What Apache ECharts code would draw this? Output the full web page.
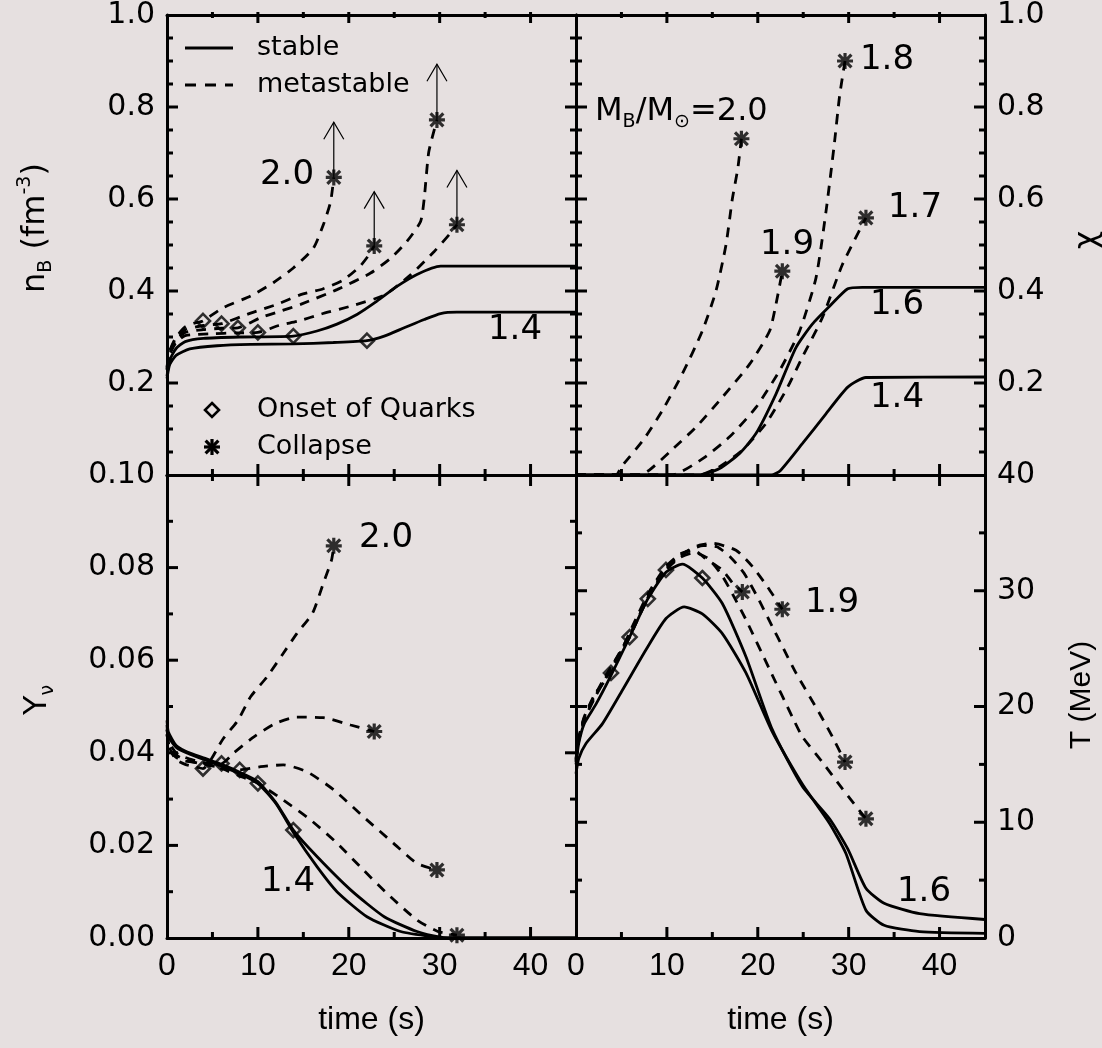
<!DOCTYPE html>
<html>
<head>
<meta charset="utf-8">
<script src="https://cdn.jsdelivr.net/npm/echarts@6/dist/echarts.min.js"></script>
<style>
  html, body { margin: 0; padding: 0; background: #e6e0e0; }
  #chart { width: 1102px; height: 1048px; }
</style>
</head>
<body>
<div id="chart"></div>
<script>
// ---- data: [time (s), value] ----
// baryon density n_B (fm^-3)
const nB14 = [[0,0.21],[0.3,0.24],[1,0.26],[2.5,0.274],[5.5,0.281],[9.2,0.284],[13.9,0.285],[18.3,0.288],[22,0.292],[23.9,0.302],[26.1,0.32],[28.3,0.338],[30.1,0.351],[31.9,0.354],[45,0.354]];
const nB16 = [[0,0.215],[0.3,0.25],[1,0.275],[2,0.29],[4,0.297],[8,0.3],[13.9,0.302],[16.5,0.313],[18.7,0.328],[20.9,0.349],[23.1,0.378],[25.3,0.41],[27.5,0.436],[30.1,0.454],[45,0.454]];
const nB17 = [[0,0.228],[0.3,0.262],[1,0.288],[2,0.303],[5,0.307],[7.5,0.309],[10,0.31],[12.3,0.325],[14.5,0.335],[17,0.35],[20.2,0.367],[23.9,0.391],[26.8,0.435],[29.4,0.486],[31.2,0.526],[31.9,0.544]];
const nB18 = [[0,0.23],[0.3,0.265],[1,0.293],[2,0.31],[4,0.316],[6,0.319],[7.8,0.32],[10.3,0.342],[12.3,0.355],[14.7,0.371],[18.7,0.403],[22.4,0.439],[24.6,0.471],[26.4,0.508],[27.9,0.551],[28.3,0.601],[28.8,0.702],[29.7,0.772]];
const nB19 = [[0,0.233],[0.3,0.268],[1,0.297],[2,0.316],[4,0.325],[6,0.329],[9.2,0.352],[12.1,0.371],[14.7,0.392],[17.2,0.405],[19.4,0.424],[21.2,0.453],[22.2,0.478],[22.8,0.498]];
const nB20 = [[0,0.235],[0.3,0.27],[1,0.3],[2,0.322],[3,0.33],[3.96,0.335],[6.2,0.364],[9.2,0.389],[11.7,0.418],[13.9,0.45],[16.1,0.493],[17.2,0.544],[18,0.594],[18.35,0.647]];
const nBOnset = [[3.96,0.335],[6,0.329],[7.8,0.32],[10,0.31],[13.9,0.302],[22,0.292]];
const nBCollapse = [[18.35,0.647],[22.8,0.498],[29.7,0.772],[31.9,0.544]];
// arrows: [time, from, to]
const nBArrows = [[18.35,0.647,0.767],[22.8,0.498,0.616],[29.7,0.772,0.893],[31.9,0.544,0.662]];

// quark fraction chi
const chi14 = [[0,0],[21.5,0],[22.5,0.01],[24.9,0.068],[27.5,0.133],[29.9,0.191],[31.9,0.212],[45,0.213]];
const chi16 = [[0,0],[13.5,0],[15.8,0.014],[18,0.047],[19.8,0.09],[22,0.176],[24.2,0.277],[26,0.328],[27.9,0.367],[29.9,0.405],[31.5,0.408],[45,0.408]];
const chi17 = [[0,0],[13.5,0],[15.8,0.018],[18.3,0.054],[20.9,0.112],[23.1,0.184],[24.9,0.256],[27.1,0.342],[29.3,0.457],[31.9,0.559]];
const chi18 = [[0,0],[10.5,0],[13.9,0.035],[16.9,0.083],[19.8,0.147],[22.4,0.227],[24.6,0.313],[26.4,0.428],[27.5,0.572],[28.4,0.716],[29,0.824],[29.6,0.9]];
const chi19 = [[0,0],[7,0],[8.1,0.011],[10.3,0.05],[13.2,0.104],[16.1,0.169],[19.1,0.241],[21.3,0.313],[22,0.371],[22.7,0.443]];
const chi20 = [[0,0],[4.4,0],[5,0.018],[7.4,0.076],[9.5,0.14],[11.7,0.22],[13.9,0.313],[15.4,0.4],[16.5,0.5],[17.2,0.6],[17.8,0.666],[18.2,0.731]];
const chiCollapse = [[18.2,0.731],[22.7,0.443],[29.6,0.9],[31.9,0.559]];

// neutrino fraction Y_nu
const yNu14 = [[0,0.046],[0.15,0.0435],[1,0.0412],[2,0.0401],[4,0.0386],[6,0.0371],[8,0.0355],[10,0.0334],[12,0.029],[14,0.0225],[16.5,0.0154],[18.7,0.01],[22,0.0046],[25.7,0.0014],[29.5,0.0002],[31,0],[45,0]];
const yNu16 = [[0,0.047],[0.15,0.0445],[1,0.0416],[2,0.0404],[4,0.0389],[6,0.0375],[8,0.0358],[10,0.0338],[12,0.0292],[13.9,0.0233],[16.5,0.0176],[20.2,0.0104],[23.9,0.0046],[27.5,0.0014],[30.1,0.0002],[32,0],[45,0]];
const yNu17 = [[0,0.045],[0.3,0.042],[1,0.04],[2,0.039],[4,0.0378],[6,0.0366],[8,0.035],[10,0.0334],[12.8,0.0298],[15.8,0.0255],[18.7,0.0205],[21.6,0.0147],[24.6,0.0089],[27.5,0.0039],[29.8,0.0014],[31.9,0.0006]];
const yNu18 = [[0,0.044],[0.3,0.041],[1,0.0395],[2,0.0385],[4,0.0375],[6,0.0368],[8,0.0363],[10.3,0.037],[12.8,0.0374],[15.4,0.0359],[18.35,0.032],[21.6,0.0262],[24.9,0.0205],[27.5,0.0161],[29.7,0.0147]];
const yNu19 = [[0,0.044],[0.3,0.0405],[1,0.039],[2,0.0382],[4,0.0378],[6,0.0377],[7.3,0.0399],[9.6,0.0435],[12,0.0464],[14.3,0.0477],[17.2,0.0476],[20.2,0.046],[22.8,0.0446]];
const yNu20 = [[0,0.045],[0.3,0.041],[1,0.0385],[2,0.0375],[3,0.037],[3.96,0.0366],[6.2,0.0431],[7.8,0.047],[9.2,0.0521],[11,0.0564],[12.8,0.0615],[14.3,0.0658],[16,0.0701],[17.2,0.0766],[18.1,0.0816],[18.35,0.0847]];
const yNuOnset = [[3.96,0.0366],[6,0.0377],[8,0.0363],[10,0.0334],[13.9,0.0233]];
const yNuCollapse = [[18.35,0.0847],[22.8,0.0446],[29.7,0.0147],[31.9,0.0006]];

// temperature T (MeV)
const temp14 = [[0,14.2],[0.3,15.5],[1.1,16.8],[2.9,18.5],[5.1,21.4],[7.7,24.9],[9.9,27.6],[11.9,28.6],[13.9,28],[16.1,26.3],[18.7,22.9],[21.6,17.8],[24.9,13.3],[27.9,9.9],[29.7,7.3],[31.9,2.4],[33.9,1.1],[37.8,0.55],[45,0.4]];
const temp16 = [[0,15],[0.3,16.8],[0.9,18.5],[2.2,20.2],[3.8,22.6],[5.9,26],[7.9,29.3],[9.9,31.6],[11.7,32.3],[13.9,31.1],[16.1,28.9],[18.7,24.3],[21.6,18],[24.9,13.1],[27.9,10.3],[29.9,7.7],[31.9,4.3],[33.9,3],[37.8,2.1],[45,1.6]];
const temp17 = [[0,15.2],[0.3,17],[0.9,18.8],[2.1,20.8],[3.6,22.9],[5.9,26.1],[7.9,29.4],[9.9,31.8],[11.5,32.9],[13,33.3],[14.5,32.8],[16,31.4],[17.3,29.6],[18.7,27.5],[21.3,23.2],[23.8,19.1],[24.9,17.4],[27.1,15.2],[29.3,12.9],[31.9,10.3]];
const temp18 = [[0,15.3],[0.3,17.1],[0.9,18.9],[2.1,20.9],[3.6,23],[5.9,26.2],[7.9,29.3],[9.9,31.9],[12,33.3],[14,33.9],[15.5,33.8],[17,32.9],[18.5,31.5],[20,29.4],[21.6,26.9],[22.7,25.2],[24.2,22.9],[26.8,19.4],[28.2,17.4],[29.6,15.2]];
const temp19 = [[0,15.4],[0.3,17.2],[0.9,19],[2.1,21],[3.6,23.1],[5.9,26],[7.9,29.5],[9.9,32],[11.7,33.2],[13.6,33.95],[15,34.1],[17.6,33.5],[19.4,32.1],[21.1,30.3],[22.7,28.4]];
const temp20 = [[0,15.5],[0.3,17.3],[0.9,19.1],[2.1,21.1],[3.85,22.9],[5.9,26.4],[7.9,29.7],[9.9,32.1],[11.5,33.2],[13,33.5],[14.2,32.8],[16.1,31.8],[17.3,30.6],[18.3,29.9]];
const tempOnset = [[3.85,22.9],[5.9,26],[7.9,29.3],[9.9,31.8],[13.9,31.1]];
const tempCollapse = [[18.3,29.9],[22.7,28.4],[29.6,15.2],[31.9,10.3]];

// tick marks: [value, length in px] (long = major, short = minor)
const timeTicks = [[5,5],[10,10],[15,5],[20,10],[25,5],[30,10],[35,5],[40,10]];
const fracTicks = [[0.05,5],[0.1,5],[0.15,5],[0.2,10],[0.25,5],[0.3,5],[0.35,5],[0.4,10],[0.45,5],[0.5,5],[0.55,5],[0.6,10],[0.65,5],[0.7,5],[0.75,5],[0.8,10],[0.85,5],[0.9,5],[0.95,5]];
const yNuTicks = [[0.01,5],[0.02,10],[0.03,5],[0.04,10],[0.05,5],[0.06,10],[0.07,5],[0.08,10],[0.09,5]];
const tempTicks = [[5,5],[10,10],[15,5],[20,10],[25,5],[30,10],[35,5]];

const BG = '#e6e0e0';
const FONT = 'DejaVu Sans';
const NARROW = 'Liberation Sans Narrow, Liberation Sans, sans-serif';
const X_MAX = 45;
// filled 8-arm asterisk in a 20x20 box, as four bars
const STAR_BARS = [
  [[0, 8], [20, 8], [20, 12], [0, 12]],
  [[8, 0], [12, 0], [12, 20], [8, 20]],
  [[3.4, 0.6], [19.4, 16.6], [16.6, 19.4], [0.6, 3.4]],
  [[19.4, 3.4], [3.4, 19.4], [0.6, 16.6], [16.6, 0.6]]
];
const STAR_PATH = STAR_BARS.map(b => 'M' + b.map(p => p.join(',')).join('L') + 'Z').join(' ');

// grid 0 = top left, 1 = top right, 2 = bottom left, 3 = bottom right
const grids = [
  { left: 167, top: 12, width: 409, height: 463 },
  { left: 576, top: 12, width: 409, height: 463 },
  { left: 167, top: 475, width: 409, height: 463 },
  { left: 576, top: 475, width: 409, height: 463 }
];
const yTickSets = [fracTicks, fracTicks, yNuTicks, tempTicks];

const frame = { show: true, onZero: false, lineStyle: { color: '#000', width: 3 } };

// two x axes per grid: bottom (labels) and top (frame only)
function makeXAxes (g, labels) {
  const base = { gridIndex: g, type: 'value', min: 0, max: X_MAX, interval: 5, axisLine: frame,
    axisTick: { show: false }, splitLine: { show: false } };
  return [
    Object.assign({}, base, {
      position: 'bottom',
      axisLabel: { show: labels, margin: 12, color: '#000', fontSize: 32, fontFamily: NARROW,
        formatter: v => (v % 10 === 0 && v < X_MAX) ? String(v) : '' },
      name: labels ? 'time (s)' : '', nameLocation: 'middle', nameGap: 66,
      nameTextStyle: { color: '#000', fontSize: 32, fontFamily: NARROW }
    }),
    Object.assign({}, base, { position: 'top', axisLabel: { show: false } })
  ];
}

function makeYAxis (g, pos, max, interval, fmt) {
  return {
    gridIndex: g, type: 'value', position: pos, min: 0, max: max, interval: interval,
    axisLine: frame, splitLine: { show: false }, axisTick: { show: false },
    axisLabel: { show: !!fmt, formatter: fmt || '', margin: 12, color: '#000', fontSize: 30, fontFamily: FONT }
  };
}

const fmt1 = v => v === 0 ? '' : v.toFixed(1);
const xAxis = [].concat(makeXAxes(0, false), makeXAxes(1, false), makeXAxes(2, true), makeXAxes(3, true));
const yAxis = [
  makeYAxis(0, 'left', 1, 0.2, fmt1), makeYAxis(0, 'right', 1, 0.2, null),
  makeYAxis(1, 'left', 1, 0.2, null), makeYAxis(1, 'right', 1, 0.2, fmt1),
  makeYAxis(2, 'left', 0.1, 0.02, v => v.toFixed(2)), makeYAxis(2, 'right', 0.1, 0.02, null),
  makeYAxis(3, 'left', 40, 10, null), makeYAxis(3, 'right', 40, 10, v => String(v))
];

function curve (data, g, dashed) {
  return {
    type: 'line', name: dashed ? 'metastable' : 'stable', data: data,
    xAxisIndex: g * 2, yAxisIndex: g * 2, symbol: 'none', smooth: 0.2, silent: true, z: 3,
    lineStyle: { color: '#000', width: 2.8, type: dashed ? [10, 8] : 'solid' }
  };
}
function onset (data, g) {
  return {
    type: 'scatter', name: 'Onset of Quarks', data: data, xAxisIndex: g * 2, yAxisIndex: g * 2,
    symbol: 'diamond', symbolSize: 14, z: 4, silent: true,
    itemStyle: { color: 'rgba(0,0,0,0)', borderColor: '#000', borderWidth: 2.6 }
  };
}
function collapse (data, g) {
  return {
    type: 'scatter', name: 'Collapse', data: data, xAxisIndex: g * 2, yAxisIndex: g * 2,
    symbol: 'path://' + STAR_PATH, symbolSize: 16, z: 5, silent: true,
    itemStyle: { color: '#000' }
  };
}

const series = [
  curve(nB14, 0, false), curve(nB16, 0, false),
  curve(nB17, 0, true), curve(nB18, 0, true), curve(nB19, 0, true), curve(nB20, 0, true),
  onset(nBOnset, 0), collapse(nBCollapse, 0),
  {
    type: 'custom', name: 'arrows', data: nBArrows, xAxisIndex: 0, yAxisIndex: 0, z: 2, silent: true,
    encode: { x: 0, y: [1, 2] },
    renderItem: function (params, api) {
      const p0 = api.coord([api.value(0), api.value(1)]);
      const p1 = api.coord([api.value(0), api.value(2)]);
      const st = { stroke: '#000', fill: null, lineWidth: 1.2 };
      return {
        type: 'group',
        children: [
          { type: 'line', shape: { x1: p0[0], y1: p0[1], x2: p1[0], y2: p1[1] }, style: st },
          { type: 'polyline', shape: { points: [[p1[0] - 10, p1[1] + 17], [p1[0], p1[1]], [p1[0] + 10, p1[1] + 17]] }, style: st }
        ]
      };
    }
  },
  curve(chi14, 1, false), curve(chi16, 1, false),
  curve(chi17, 1, true), curve(chi18, 1, true), curve(chi19, 1, true), curve(chi20, 1, true),
  collapse(chiCollapse, 1),
  curve(yNu14, 2, false), curve(yNu16, 2, false),
  curve(yNu17, 2, true), curve(yNu18, 2, true), curve(yNu19, 2, true), curve(yNu20, 2, true),
  onset(yNuOnset, 2), collapse(yNuCollapse, 2),
  curve(temp14, 3, false), curve(temp16, 3, false),
  curve(temp17, 3, true), curve(temp18, 3, true), curve(temp19, 3, true), curve(temp20, 3, true),
  onset(tempOnset, 3), collapse(tempCollapse, 3)
];

// annotation texts
const txt = (x, y, text, extra) => ({
  type: 'text', x: x, y: y, z: 10, silent: true,
  style: Object.assign({ text: text, fontSize: 34, fontFamily: FONT, fill: '#000', align: 'center', verticalAlign: 'middle' }, extra || {})
});
const subRich = {
  s: { fontSize: 19, fontFamily: FONT, fill: '#000', verticalAlign: 'bottom', lineHeight: 40 },
  p: { fontSize: 19, fontFamily: FONT, fill: '#000', verticalAlign: 'top', lineHeight: 40 },
  m: { fontSize: 32, fontFamily: FONT, fill: '#000', lineHeight: 40 }
};
const legendText = (x, y, text) => txt(x, y, text, { fontSize: 27, align: 'left' });

const graphic = [
  txt(287, 175, '2.0'), txt(515, 330, '1.4'),
  txt(595, 112, '{m|M}{s|B}{m|/M}{s|⊙}{m|=2.0}', { align: 'left', rich: subRich }),
  txt(887, 60, '1.8'), txt(787, 245, '1.9'), txt(915, 208, '1.7'), txt(897, 305, '1.6'), txt(897, 398, '1.4'),
  txt(386, 538, '2.0'), txt(288, 882, '1.4'),
  txt(832, 603, '1.9'), txt(924, 892, '1.6'),
  // axis titles
  Object.assign(txt(36, 228, '{m|n}{s|B}{m| (fm}{p|-3}{m|)}', { rich: subRich }), { rotation: Math.PI / 2 }),
  Object.assign(txt(38, 700, '{m|Y}{s|ν}', { rich: subRich }), { rotation: Math.PI / 2 }),
  Object.assign(txt(1088, 240, 'χ', { fontSize: 32 }), { rotation: Math.PI / 2 }),
  Object.assign(txt(1082, 695, 'T (MeV)', { fontSize: 30, fontFamily: NARROW }), { rotation: Math.PI / 2 }),
  // legend
  { type: 'line', shape: { x1: 185, y1: 48, x2: 233, y2: 48 }, style: { stroke: '#000', lineWidth: 3 }, z: 10 },
  { type: 'line', shape: { x1: 185, y1: 85, x2: 233, y2: 85 }, style: { stroke: '#000', lineWidth: 3, lineDash: [11, 9] }, z: 10 },
  legendText(257, 48, 'stable'), legendText(257, 85, 'metastable'),
  { type: 'polygon', shape: { points: [[212, 403], [219, 410], [212, 417], [205, 410]] }, style: { stroke: '#000', fill: null, lineWidth: 2.6 }, z: 10 },
  legendText(257, 410, 'Onset of Quarks'), legendText(257, 447, 'Collapse')
].concat(STAR_BARS.map(b => ({
  type: 'polygon', z: 10,
  shape: { points: b.map(p => [204 + p[0] * 0.8, 439 + p[1] * 0.8]) },
  style: { fill: '#000' }
})));

const chart = echarts.init(document.getElementById('chart'), null, { renderer: 'canvas' });
chart.setOption({
  backgroundColor: BG,
  animation: false,
  grid: grids.map(g => Object.assign({ show: false }, g)),
  xAxis: xAxis,
  yAxis: yAxis,
  series: series,
  graphic: graphic
});

// inward tick marks on all four sides of each panel
const tickEls = [];
const bar = (x, y, w, h) => ({ type: 'polygon', z: 20, silent: true,
  shape: { points: [[x, y], [x + w, y], [x + w, y + h], [x, y + h]] }, style: { fill: '#000' } });
grids.forEach(function (gr, g) {
  const finder = { gridIndex: g };
  const top = gr.top, bottom = gr.top + gr.height, left = gr.left, right = gr.left + gr.width;
  timeTicks.forEach(function (t) {
    const p = chart.convertToPixel(finder, [t[0], 0]);
    const x = (p && isFinite(p[0])) ? p[0] : left + t[0] / X_MAX * gr.width;
    tickEls.push(bar(x - 1.5, bottom - t[1] - 1, 3, t[1] + 1));
    tickEls.push(bar(x - 1.5, top, 3, t[1] + 1));
  });
  yTickSets[g].forEach(function (t) {
    const y = chart.convertToPixel(finder, [0, t[0]])[1];
    tickEls.push(bar(left, y - 1.5, t[1] + 1, 3));
    tickEls.push(bar(right - t[1] - 1, y - 1.5, t[1] + 1, 3));
  });
});
chart.setOption({ graphic: graphic.concat(tickEls) });
</script>
</body>
</html>
